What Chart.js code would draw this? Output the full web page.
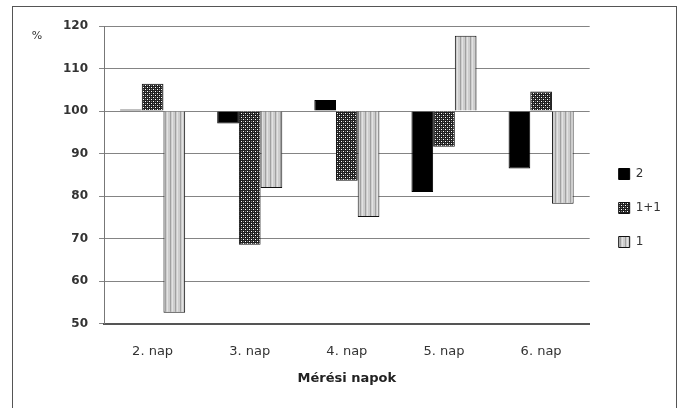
<!DOCTYPE html>
<html>
<head>
<meta charset="utf-8">
<script src="https://cdn.jsdelivr.net/npm/chart.js@4"></script>
<style>
  html, body { margin: 0; padding: 0; background: #fff; }
  #wrap { position: relative; width: 683px; height: 408px; }
</style>
</head>
<body>
<div id="wrap"><canvas id="c" width="683" height="408"></canvas></div>
<script>
// ---- data ----
const categories = ["2. nap", "3. nap", "4. nap", "5. nap", "6. nap"];
const seriesNames = ["2", "1+1", "1"];
const series2 = [100.4, 97.1, 102.6, 81.0, 86.5];
const series11 = [106.4, 68.6, 83.6, 91.6, 104.6];
const series1 = [52.6, 81.9, 75.1, 117.7, 78.2];
const yTicks = [50, 60, 70, 80, 90, 100, 110, 120];
const baseValue = 100;
const xTitle = "Mérési napok";
const yTitle = "%";

// ---- patterns ----
function makePattern(w, h, draw) {
  const c = document.createElement('canvas');
  c.width = w; c.height = h;
  const g = c.getContext('2d');
  draw(g);
  return document.getElementById('c').getContext('2d').createPattern(c, 'repeat');
}
const checkPattern = makePattern(4, 4, g => {
  g.fillStyle = '#202020'; g.fillRect(0, 0, 4, 4);
  g.fillStyle = '#ffffff';
  g.fillRect(1, 1, 1, 1);
  g.fillRect(3, 3, 1, 1);
  g.fillStyle = '#7a7a7a';
  g.fillRect(3, 1, 1, 1);
  g.fillRect(1, 3, 1, 1);
});
const stripePattern = makePattern(5, 1, g => {
  g.fillStyle = '#cdcdcd'; g.fillRect(0, 0, 5, 1);
  g.fillStyle = '#a0a0a0'; g.fillRect(0, 0, 1, 1);
  g.fillStyle = '#e2e2e2'; g.fillRect(2, 0, 1, 1);
});

const FONT = "'DejaVu Sans', Verdana, sans-serif";

const framePlugin = {
  id: 'frame',
  afterDraw(chart) {
    const ctx = chart.ctx;
    ctx.save();
    ctx.strokeStyle = '#555';
    ctx.lineWidth = 1;
    ctx.strokeRect(12.5, 6.5, 664, 430);
    ctx.fillStyle = '#333';
    ctx.font = "11px " + FONT;
    ctx.textAlign = 'center';
    ctx.textBaseline = 'middle';
    ctx.fillText(yTitle, 37, 36);
    ctx.restore();
  }
};

new Chart(document.getElementById('c'), {
  type: 'bar',
  data: {
    labels: categories,
    datasets: [
      { label: seriesNames[0], data: series2, base: baseValue, backgroundColor: '#000', borderColor: '#000', borderWidth: 1 },
      { label: seriesNames[1], data: series11, base: baseValue, backgroundColor: checkPattern, borderColor: '#111', borderWidth: 1 },
      { label: seriesNames[2], data: series1, base: baseValue, backgroundColor: stripePattern, borderColor: '#111', borderWidth: 1 }
    ]
  },
  options: {
    responsive: false,
    animation: false,
    devicePixelRatio: 1,
    layout: { padding: { left: 52, right: 12, top: 26, bottom: 18 } },
    datasets: { bar: { categoryPercentage: 0.67, barPercentage: 1 } },
    plugins: {
      legend: {
        position: 'right',
        labels: {
          boxWidth: 11, boxHeight: 11, padding: 22,
          color: '#333', font: { family: FONT, size: 12 }
        }
      },
      tooltip: { enabled: false }
    },
    scales: {
      x: {
        grid: { display: false, drawTicks: false },
        border: { display: true, color: '#555', width: 2 },
        ticks: { color: '#333', padding: 20, font: { family: FONT, size: 13 } },
        title: { display: true, text: xTitle, color: '#222', padding: { top: -9, bottom: 4 }, font: { family: FONT, size: 13, weight: 'bold' } }
      },
      y: {
        min: 50, max: 120,
        afterBuildTicks(axis) { axis.ticks = yTicks.map(v => ({ value: v })); },
        grid: { color: '#848484', tickLength: 5, tickColor: '#848484' },
        border: { display: true, color: '#777' },
        ticks: { color: '#333', padding: 11, font: { family: FONT, size: 12, weight: 'bold' } }
      },
      gap: {
        position: 'right',
        display: true,
        grid: { display: false },
        border: { display: false },
        ticks: { display: false },
        afterFit(scale) { scale.width = 7; }
      }
    }
  },
  plugins: [framePlugin]
});
</script>
</body>
</html>
